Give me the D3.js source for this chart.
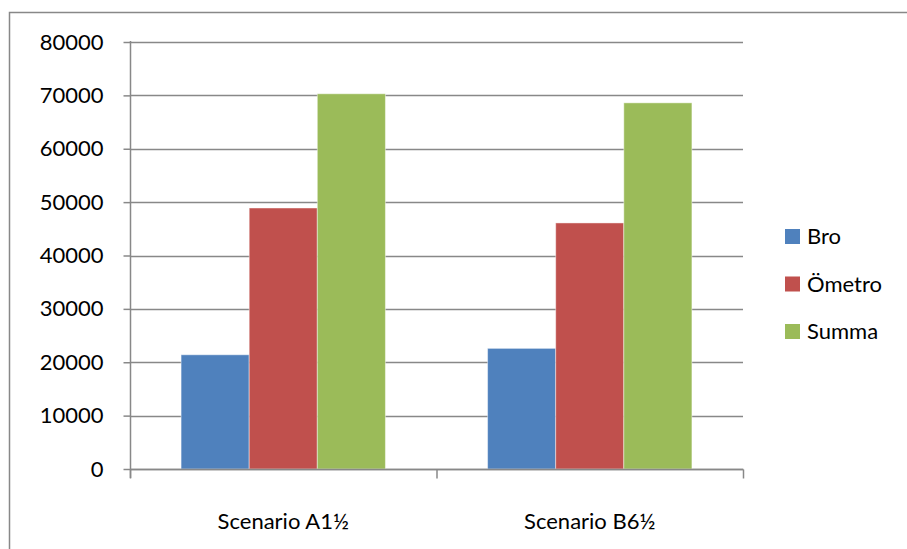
<!DOCTYPE html>
<html>
<head>
<meta charset="utf-8">
<script src="https://cdn.jsdelivr.net/npm/d3@7"></script>
<style>
  html, body { margin: 0; padding: 0; background: #fff; }
  svg { display: block; }
  text { font-family: Lato, "Liberation Sans", Arial, sans-serif; fill: #000; }
</style>
</head>
<body>
<svg id="chart" width="907" height="549"></svg>
<script>
// Scenario comparison data
const categories = ["Scenario A1½", "Scenario B6½"];
const seriesNames = ["Bro", "Ömetro", "Summa"];
const bro = [21400, 22600];
const ometro = [48900, 46100];
const summa = [70300, 68600];
const yTicks = [0, 10000, 20000, 30000, 40000, 50000, 60000, 70000, 80000];
const colors = ["#4F81BD", "#C0504D", "#9BBB59"];

const seriesValues = [bro, ometro, summa];
const FONT = "Lato, Liberation Sans, Arial, sans-serif";
const FS = 22;

const svg = d3.select("#chart");

// chart frame
svg.append("rect")
  .attr("x", 9.5).attr("y", 12.5)
  .attr("width", 905).attr("height", 560)
  .attr("fill", "none").attr("stroke", "#888").attr("stroke-width", 1.5);

const plot = { left: 130, right: 743, top: 42, bottom: 469 };

const x0 = d3.scaleBand().domain(categories).range([plot.left, plot.right]).paddingInner(0).paddingOuter(0);
// bars fill 2/3 of each band with 150% gap between groups
const x1 = d3.scaleBand().domain(seriesNames).range([0, x0.bandwidth()]).paddingOuter(0.75).paddingInner(0);
const y = d3.scaleLinear().domain([0, 80000]).range([plot.bottom, plot.top]);

// horizontal gridlines
svg.append("g").selectAll("line").data(yTicks).join("line")
  .attr("x1", plot.left).attr("x2", plot.right)
  .attr("y1", d => Math.round(y(d)) + 0.5).attr("y2", d => Math.round(y(d)) + 0.5)
  .attr("stroke", "#888").attr("stroke-width", 1.5);

// bars
const rows = categories.map((c, i) => ({ cat: c, vals: seriesNames.map((s, j) => ({ s, v: seriesValues[j][i], j })) }));
svg.append("g").selectAll("g").data(rows).join("g")
  .attr("transform", d => `translate(${x0(d.cat)},0)`)
  .selectAll("rect").data(d => d.vals).join("rect")
  .attr("x", d => x1(d.s))
  .attr("y", d => y(d.v))
  .attr("width", x1.bandwidth())
  .attr("height", d => y(0) - y(d.v))
  .attr("fill", d => colors[d.j])
  .attr("stroke", "rgba(255,255,255,0.45)").attr("stroke-width", 1);

// y axis
const yAxis = d3.axisLeft(y).tickValues(yTicks).tickSize(7).tickPadding(20).tickFormat(d3.format("d"));
const gy = svg.append("g").attr("transform", `translate(${plot.left + 0.5},0)`).call(yAxis);
gy.select(".domain").attr("stroke", "#888").attr("stroke-width", 1.5).attr("d", `M0,${plot.top - 1}V${plot.bottom + 9}`);
gy.selectAll(".tick line").attr("stroke", "#888").attr("stroke-width", 1.5);
gy.selectAll(".tick text").attr("font-size", FS).attr("font-family", FONT).attr("fill", "#000");

// x axis with ticks at band boundaries
const gx = svg.append("g").attr("transform", `translate(0,${plot.bottom + 0.5})`);
gx.append("line").attr("x1", plot.left).attr("x2", plot.right + 0.5)
  .attr("stroke", "#888").attr("stroke-width", 1.5);
const bounds = categories.map(c => x0(c)).concat([plot.right]);
gx.selectAll("line.tk").data(bounds).join("line").attr("class", "tk")
  .attr("x1", d => d + 0.5).attr("x2", d => d + 0.5).attr("y1", 0).attr("y2", 9)
  .attr("stroke", "#888").attr("stroke-width", 1.5);
gx.selectAll("text").data(categories).join("text")
  .attr("x", d => x0(d) + x0.bandwidth() / 2)
  .attr("y", 59)
  .attr("text-anchor", "middle")
  .attr("font-size", FS)
  .text(d => d);

// legend
const legend = svg.append("g").attr("transform", "translate(785,229)");
const li = legend.selectAll("g").data(seriesNames).join("g")
  .attr("transform", (d, i) => `translate(0,${i * 47.5})`);
li.append("rect").attr("width", 15).attr("height", 15).attr("fill", (d, i) => colors[i]);
li.append("text").attr("x", 22).attr("y", 15).attr("font-size", FS).text(d => d);
</script>
</body>
</html>
